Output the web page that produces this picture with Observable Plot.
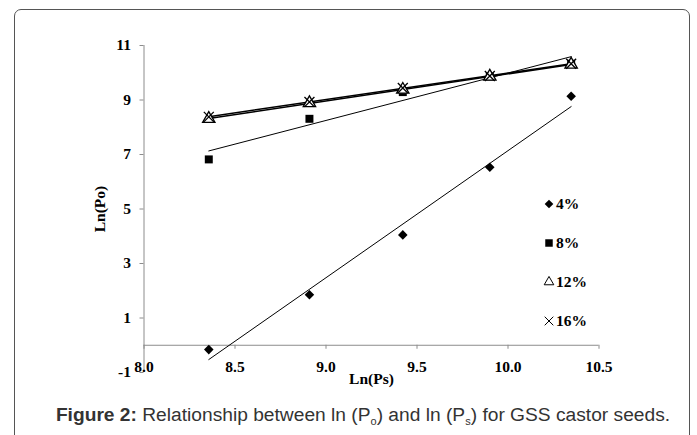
<!DOCTYPE html>
<html><head><meta charset="utf-8">
<script src="https://cdn.jsdelivr.net/npm/d3@7"></script>
<script src="https://cdn.jsdelivr.net/npm/@observablehq/plot@0.6"></script>
<style>
body{margin:0;background:#fff;}
#wrap{position:relative;width:697px;height:435px;overflow:hidden;}
#frame{position:absolute;left:14px;top:9px;width:676px;height:450px;border:1.5px solid #555;border-radius:7px;box-sizing:border-box;}
#chart{position:absolute;left:0;top:0;}
#legend{position:absolute;left:543px;top:184.5px;font:bold 15.5px "Liberation Serif",serif;color:#000;}
#legend .row{height:39px;line-height:20px;white-space:nowrap;display:flex;align-items:center;}
#legend svg{margin-right:1px;}
#caption{position:absolute;left:0;width:726px;top:404px;text-align:center;font:19.2px "Liberation Sans",Arial,sans-serif;line-height:1.117;color:#333;white-space:nowrap;}
#caption sub{font-size:11px;vertical-align:-4px;line-height:0;}
</style></head>
<body>
<div id="wrap">
  <div id="frame"></div>
  <div id="chart"></div>
  <div id="legend"></div>
  <div id="caption"><b>Figure 2:</b> Relationship between ln (P<sub>o</sub>) and ln (P<sub>s</sub>) for GSS castor seeds.</div>
</div>
<script>
const lnPs = [8.356, 8.909, 9.422, 9.90, 10.347];
const po4  = [-0.16, 1.85, 4.05, 6.53, 9.14];
const po8  = [6.82, 8.31, 9.29, 9.86, 10.33];
const po12 = [8.31, 8.89, 9.38, 9.86, 10.30];
const po16 = [8.38, 8.93, 9.44, 9.88, 10.33];
const seriesNames = ["4%", "8%", "12%", "16%"];
const xTicks = [8.0, 8.5, 9.0, 9.5, 10.0, 10.5];
const yTicks = [-1, 1, 3, 5, 7, 9, 11];

const seriesValues = [po4, po8, po12, po16];
const data = [];
seriesNames.forEach((s, k) => lnPs.forEach((x, i) => data.push({s, x, y: seriesValues[k][i]})));
const of = s => data.filter(d => d.s === s);

const axisGray = "#8c8c8c";
const chart = Plot.plot({
  width: 697, height: 435,
  marginLeft: 143.5, marginRight: 98.5, marginTop: 45, marginBottom: 63,
  style: {fontFamily: "Liberation Serif, serif", fontSize: "15.5px", fontWeight: "bold", color: "#000", background: "transparent"},
  x: {domain: [8, 10.5], axis: null},
  y: {domain: [-1, 11], axis: null},
  marks: [
    Plot.ruleY([0], {stroke: axisGray, strokeWidth: 1}),
    Plot.ruleX([8], {stroke: axisGray, strokeWidth: 1}),
    Plot.ruleX(xTicks, {x: d => d, y1: 0, y2: 0, insetBottom: -4, stroke: axisGray}),
    Plot.axisY({ticks: yTicks, tickSize: 4, tickPadding: 9, stroke: axisGray, tickFormat: d => String(d), fill: "#000", label: null}),
    Plot.text(xTicks, {x: d => d, text: d => d.toFixed(1), frameAnchor: "bottom", dy: -1, fill: "#000"}),
    Plot.text(["Ln(Po)"], {frameAnchor: "left", dx: -43.5, rotate: -90, textAnchor: "middle", fill: "#000"}),
    Plot.text(["Ln(Ps)"], {frameAnchor: "bottom", dy: 11, textAnchor: "middle", fill: "#000"}),
    Plot.linearRegressionY(data.filter(d => d.s === "4%" || d.s === "8%"), {x: "x", y: "y", z: "s", stroke: "black", strokeWidth: 1, ci: 0}),
    Plot.linearRegressionY(data.filter(d => d.s === "12%" || d.s === "16%"), {x: "x", y: "y", z: "s", stroke: "black", strokeWidth: 1.5, ci: 0}),
    Plot.dot(of("4%"), {x: "x", y: "y", symbol: "diamond2", r: 4.3, fill: "black"}),
    Plot.dot(of("8%"), {x: "x", y: "y", symbol: "square", r: 4.5, fill: "black"}),
    Plot.dot(of("12%"), {x: "x", y: "y", symbol: "triangle", r: 4.6, fill: "white", stroke: "black", strokeWidth: 1.3}),
    Plot.dot(of("16%"), {x: "x", y: "y", symbol: "times", r: 4.6, stroke: "black", strokeWidth: 1.3})
  ]
});
document.getElementById("chart").append(chart);

// legend with small marker glyphs
const legendSymbols = [
  {type: d3.symbolDiamond2, size: 48, fill: "black", stroke: "none"},
  {type: d3.symbolSquare, size: 56, fill: "black", stroke: "none"},
  {type: d3.symbolTriangle, size: 40, fill: "white", stroke: "black"},
  {type: d3.symbolTimes, size: 50, fill: "none", stroke: "black"}
];
const legend = d3.select("#legend");
seriesNames.forEach((s, k) => {
  const row = legend.append("div").attr("class", "row");
  const sym = legendSymbols[k];
  row.append("svg").attr("width", 12).attr("height", 12)
    .append("path").attr("transform", "translate(6,6)")
    .attr("d", d3.symbol(sym.type, sym.size)())
    .attr("fill", sym.fill).attr("stroke", sym.stroke).attr("stroke-width", 1);
  row.append("span").text(s);
});
</script>
</body></html>
